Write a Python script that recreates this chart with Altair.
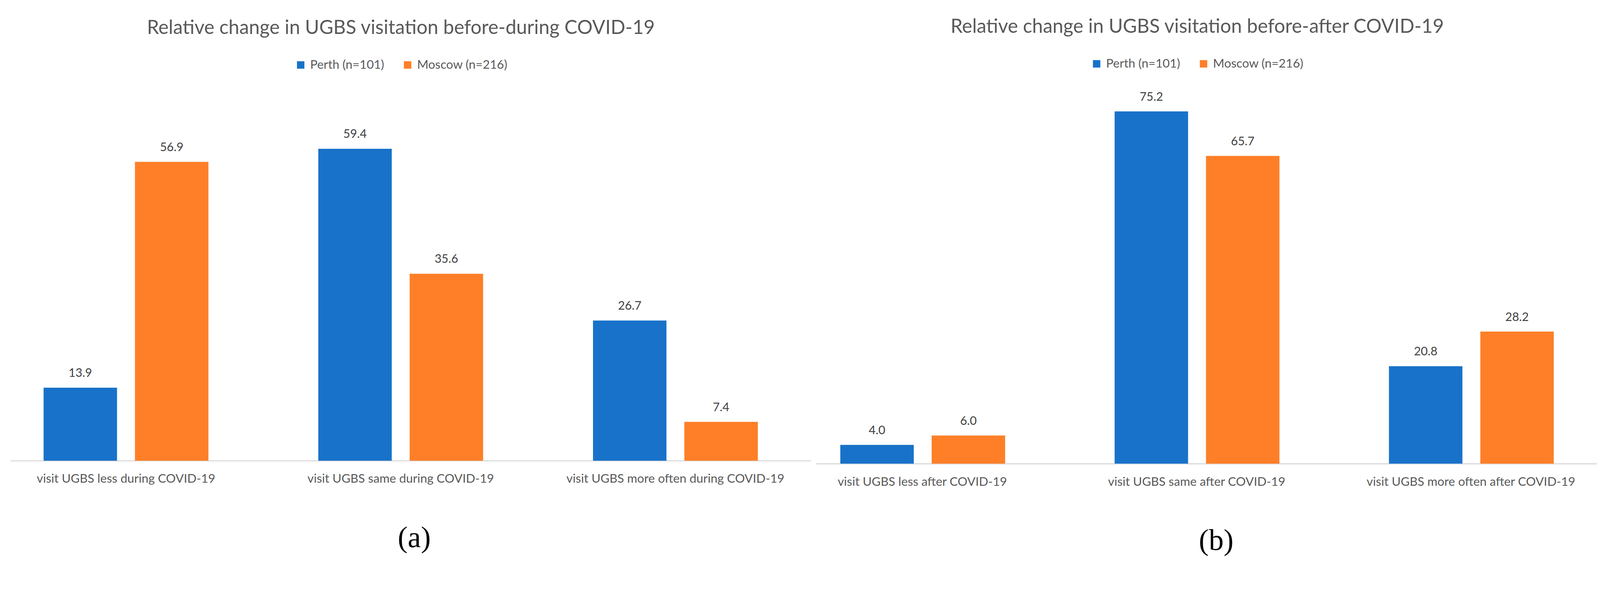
import altair as alt
import pandas as pd

series = ["Perth (n=101)", "Moscow (n=216)"]
colors = ["#1872C9", "#FE7F27"]

categories_a = [
    "visit UGBS less during COVID-19",
    "visit UGBS same during COVID-19",
    "visit UGBS more often during COVID-19",
]
perth_a = [13.9, 59.4, 26.7]
moscow_a = [56.9, 35.6, 7.4]

categories_b = [
    "visit UGBS less after COVID-19",
    "visit UGBS same after COVID-19",
    "visit UGBS more often after COVID-19",
]
perth_b = [4.0, 75.2, 20.8]
moscow_b = [6.0, 65.7, 28.2]

title_a = "Relative change in UGBS visitation before-during COVID-19"
title_b = "Relative change in UGBS visitation before-after COVID-19"


def make_df(cats, perth, moscow):
    rows = []
    for c, p, m in zip(cats, perth, moscow):
        rows.append({"category": c, "city": series[0], "value": p})
        rows.append({"category": c, "city": series[1], "value": m})
    return pd.DataFrame(rows)


FONT = "Lato"
TOP = 240  # plot top (page px)


def panel(df, cats, title, caption, W, base, ppu, pI, pO, align,
          legend_x, legend_y, title_dx, cap_x):
    H = base - TOP
    ymax = H / ppu
    xenc = alt.X(
        "category:N",
        sort=cats,
        scale=alt.Scale(paddingInner=pI, paddingOuter=pO, align=align),
        axis=alt.Axis(
            title=caption,
            labelAngle=0,
            labelFont=FONT,
            labelFontSize=33,
            labelColor="#595959",
            labelPadding=33,
            labelLimit=0,
            ticks=False,
            domainColor="#D9D9D9",
            domainWidth=3,
            titleFont="Liberation Serif",
            titleFontSize=80,
            titleFontWeight="normal",
            titleColor="#000000",
            titleX=cap_x,
            titleY=208,
            titleBaseline="middle",
        ),
    )
    xoff = alt.XOffset(
        "city:N", sort=series,
        scale=alt.Scale(paddingInner=0.196, paddingOuter=0),
    )
    yenc = alt.Y(
        "value:Q",
        scale=alt.Scale(domain=[0, ymax], nice=False),
        axis=None,
    )
    base_chart = alt.Chart(df)
    bars = base_chart.mark_bar().encode(
        x=xenc,
        xOffset=xoff,
        y=yenc,
        color=alt.Color(
            "city:N",
            sort=series,
            scale=alt.Scale(domain=series, range=colors),
            legend=alt.Legend(
                orient="none",
                legendX=legend_x,
                legendY=legend_y,
                direction="horizontal",
                title=None,
                symbolType="square",
                symbolSize=400,
                symbolStrokeWidth=0,
                labelFont=FONT,
                labelFontSize=33,
                labelColor="#595959",
                labelLimit=600,
                labelOffset=9,
                columnPadding=46,
                padding=0,
            ),
        ),
    )
    labels = base_chart.mark_text(
        dy=-39, baseline="middle", font=FONT, fontSize=32, color="#404040"
    ).encode(
        x=alt.X("category:N", sort=cats),
        xOffset=alt.XOffset("city:N", sort=series),
        y=alt.Y("value:Q"),
        text=alt.Text("value:Q", format=".1f"),
    )
    return alt.layer(bars, labels).properties(
        width=W,
        height=H,
        title=alt.TitleParams(
            text=title,
            font=FONT,
            fontSize=52,
            fontWeight="normal",
            color="#595959",
            anchor="middle",
            dx=title_dx,
            offset=56,
        ),
    )


left = panel(
    make_df(categories_a, perth_a, moscow_a), categories_a, title_a, "(a)",
    W=2157, base=1250, ppu=14.15, pI=0.4, pO=0.1575, align=0.386,
    legend_x=766, legend_y=167 - TOP, title_dx=-26, cap_x=1088,
)
right = panel(
    make_df(categories_b, perth_b, moscow_b), categories_b, title_b, "(b)",
    W=2103, base=1258, ppu=12.62, pI=0.402, pO=0.124, align=0.355,
    legend_x=739, legend_y=164 - TOP, title_dx=-25, cap_x=1077,
)

chart = (
    alt.hconcat(left, right, spacing=14)
    .resolve_legend(color="independent")
    .properties(
        padding={"left": 19, "top": 0, "right": 0, "bottom": 0},
        background="white",
    )
    .configure_view(stroke="transparent", strokeWidth=0)
)

chart.save("out.html", embed_options={"renderer": "svg", "actions": False})
